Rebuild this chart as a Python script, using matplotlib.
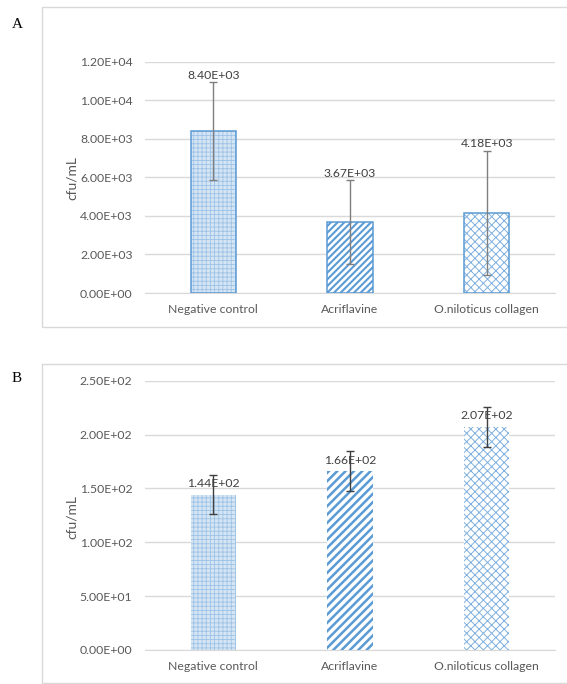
import matplotlib.pyplot as plt
from matplotlib.patches import Rectangle
import numpy as np

# data
groups = ['Negative control', 'Acriflavine', 'O.niloticus collagen']
a_mean = [8.40e3, 3.67e3, 4.18e3]
a_sd = [2.55e3, 2.18e3, 3.22e3]
b_mean = [144, 166, 207]
b_sd = [18.0, 18.3, 18.6]

blue = '#5b9bd5'
grey = '#595959'
plt.rcParams['font.family'] = ['Lato', 'DejaVu Sans']

W, H = 567, 684
fig = plt.figure(figsize=(W / 100, H / 100), dpi=100)

def box(x0, y0, x1, y1):
    # pixel coords, origin top-left
    return [x0 / W, 1 - y1 / H, (x1 - x0) / W, (y1 - y0) / H]

# chart area frames
for y0, y1 in [(7, 326.5), (363.5, 683)]:
    fig.patches.append(Rectangle((42 / W, 1 - y1 / H), (600 - 42) / W, (y1 - y0) / H,
                                 transform=fig.transFigure, fill=False,
                                 edgecolor='#d9d9d9', lw=1))

fig.text(17 / W, 1 - 25 / H, 'A', family='Liberation Serif', fontsize=11,
         ha='center', va='center')
fig.text(17 / W, 1 - 378 / H, 'B', family='Liberation Serif', fontsize=11,
         ha='center', va='center')

x = np.arange(3)
width = 0.33
hatches_a = ['++++', '/////', 'xxxx']
hatches_b = ['++++', '////', 'xxxx']
fs = 8.8


def panel(rect, means, sds, ymax, step, hatches, outline, lab_above_err, ylab_y, ecol, hlw):
    ax = fig.add_axes(rect)
    for i in range(3):
        fc = '#d6e5f4' if i == 0 else 'white'
        hc = '#9dc3e6' if i == 0 else blue
        if i == 2:
            hc = '#7fb0df'
        plt.rcParams['hatch.linewidth'] = hlw[i]
        ax.bar(x[i], means[i], width, color=fc, edgecolor=hc, lw=0,
               hatch=hatches[i], zorder=2)
        if outline:
            ax.bar(x[i], means[i], width, fill=False, edgecolor=blue, lw=1.1, zorder=3)
    ax.errorbar(x, means, yerr=sds, fmt='none', ecolor=ecol, elinewidth=1,
                capsize=3, capthick=1, zorder=4)
    for i in range(3):
        if lab_above_err:
            yy, off = means[i] + sds[i], 1
        else:
            yy, off = means[i], 4
        ax.annotate('%.2E' % means[i], (x[i], yy), xytext=(0, off),
                    textcoords='offset points', ha='center', va='bottom',
                    fontsize=fs, color='#404040', zorder=5)
    ax.set_xlim(-0.5, 2.5)
    ax.set_ylim(0, ymax)
    ticks = np.arange(0, ymax + step / 2, step)
    ax.set_yticks(ticks)
    ax.set_yticklabels(['%.2E' % t for t in ticks])
    ax.set_xticks(x)
    ax.set_xticklabels(groups)
    ax.yaxis.grid(True, color='#d9d9d9', lw=1)
    ax.set_axisbelow(True)
    for s in ['top', 'right', 'left']:
        ax.spines[s].set_visible(False)
    ax.spines['bottom'].set_color('#d9d9d9')
    ax.tick_params(axis='both', length=0, labelsize=fs, colors=grey)
    ax.tick_params(axis='y', pad=9)
    ax.tick_params(axis='x', pad=8)
    fig.text(72 / W, 1 - ylab_y / H, 'cfu/mL', rotation=90, fontsize=10,
             color=grey, ha='center', va='center')
    return ax


panel(box(145, 62, 555, 293), a_mean, a_sd, 12000, 2000, hatches_a, True, True,
      178, '#7f7f7f', [0.6, 1.5, 0.7])
panel(box(145, 380.7, 555, 650), b_mean, b_sd, 250, 50, hatches_b, False, False,
      517, '#404040', [0.6, 1.8, 0.7])

fig.savefig('out.png', dpi=100)
